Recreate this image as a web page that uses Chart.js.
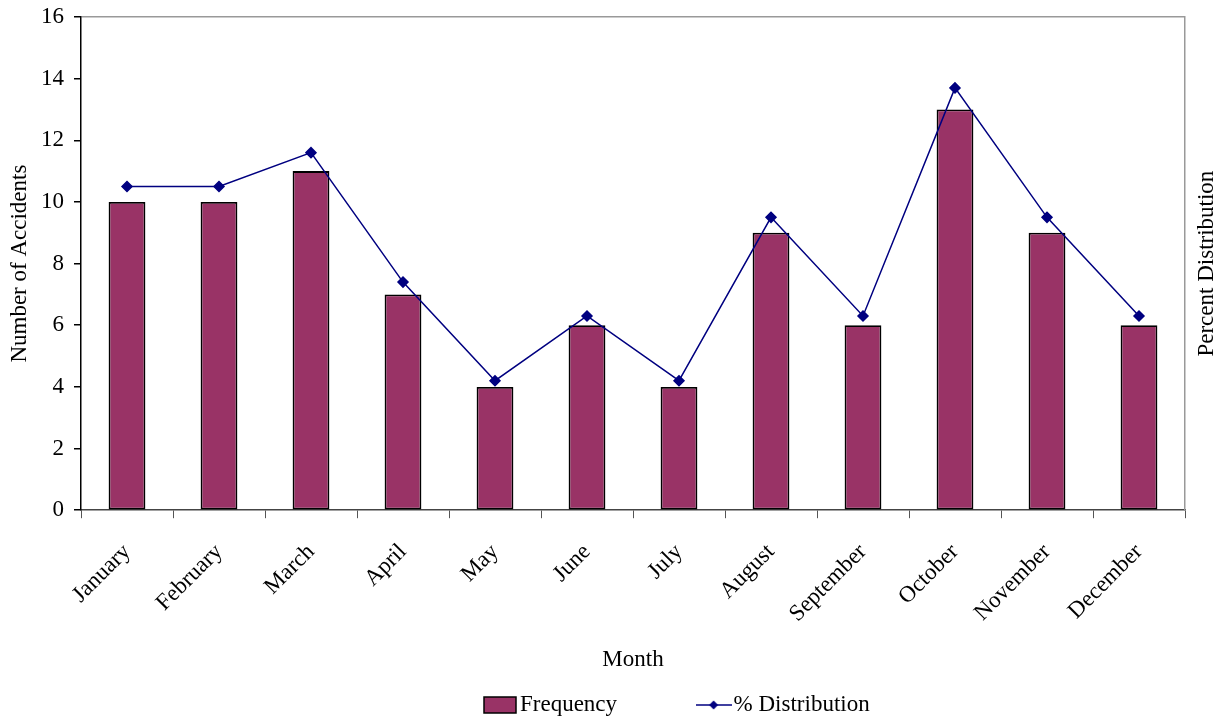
<!DOCTYPE html>
<html>
<head>
<meta charset="utf-8">
<script src="https://cdn.jsdelivr.net/npm/chart.js@4.4.1/dist/chart.umd.min.js"></script>
<style>
  html, body { margin: 0; padding: 0; background: #fff; }
  #wrap { width: 1225px; height: 721px; }
</style>
</head>
<body>
<div id="wrap"><canvas id="c" width="1225" height="721"></canvas></div>
<script>
const months = ["January","February","March","April","May","June","July","August","September","October","November","December"];
const frequency = [10, 10, 11, 7, 4, 6, 4, 9, 6, 13, 9, 6];
const percentDistribution = [10.5, 10.5, 11.6, 7.4, 4.2, 6.3, 4.2, 9.5, 6.3, 13.7, 9.5, 6.3];
const yTicks = [0, 2, 4, 6, 8, 10, 12, 14, 16];

const FONT = "'Liberation Serif', 'Times New Roman', serif";
const FS = 23;
const BAR_COLOR = '#993366';
const LINE_COLOR = '#000080';

function legendBarImg() {
  const c = document.createElement('canvas');
  c.width = 34; c.height = 18;
  const x = c.getContext('2d');
  x.fillStyle = BAR_COLOR;
  x.fillRect(1, 1, 32, 16);
  x.strokeStyle = '#000';
  x.lineWidth = 1.5;
  x.strokeRect(1, 1, 32, 16);
  return c;
}
function legendLineImg() {
  const c = document.createElement('canvas');
  c.width = 36; c.height = 12;
  const x = c.getContext('2d');
  x.strokeStyle = LINE_COLOR;
  x.lineWidth = 1.5;
  x.beginPath(); x.moveTo(0, 6); x.lineTo(36, 6); x.stroke();
  x.fillStyle = LINE_COLOR;
  x.beginPath(); x.moveTo(18, 1.5); x.lineTo(22.5, 6); x.lineTo(18, 10.5); x.lineTo(13.5, 6); x.closePath(); x.fill();
  return c;
}
const barImg = legendBarImg();
const lineImg = legendLineImg();

const LEGEND_GAP = 88;
const rightTitlePlugin = {
  id: 'rightTitle',
  afterLayout(chart) {
    const lg = chart.legend;
    if (lg) {
      lg.options.labels.padding = LEGEND_GAP;
      lg.left = 491.5 - LEGEND_GAP;
      lg.top = 705 - FS / 2 - LEGEND_GAP;
    }
  },
  afterDraw(chart) {
    const ctx = chart.ctx;
    ctx.save();
    ctx.font = FS + 'px ' + FONT;
    ctx.fillStyle = '#000';
    ctx.textAlign = 'center';
    ctx.textBaseline = 'middle';
    ctx.translate(1207, (chart.chartArea.top + chart.chartArea.bottom) / 2);
    ctx.rotate(-Math.PI / 2);
    ctx.fillText('Percent Distribution', 0, 0);
    ctx.restore();
  }
};

new Chart(document.getElementById('c'), {
  data: {
    labels: months,
    datasets: [
      {
        type: 'line',
        label: '% Distribution',
        data: percentDistribution,
        yAxisID: 'y1',
        borderColor: LINE_COLOR,
        backgroundColor: LINE_COLOR,
        borderWidth: 1.5,
        pointStyle: 'rectRot',
        pointRadius: 5,
        pointBackgroundColor: LINE_COLOR,
        pointBorderColor: LINE_COLOR,
        tension: 0,
        order: 0
      },
      {
        type: 'bar',
        label: 'Frequency',
        data: frequency,
        yAxisID: 'y',
        backgroundColor: BAR_COLOR,
        borderColor: '#000',
        borderWidth: 1.8,
        borderSkipped: false,
        barPercentage: 0.4,
        categoryPercentage: 1.0,
        order: 1
      }
    ]
  },
  options: {
    responsive: false,
    animation: false,
    layout: { padding: { left: 0, right: 0, top: 0, bottom: 0 } },
    plugins: {
      tooltip: { enabled: false },
      legend: {
        display: true,
        position: 'bottom',
        align: 'start',
        labels: {
          usePointStyle: true,
          pointStyleWidth: 17,
          padding: 10,
          color: '#000',
          font: { family: FONT, size: FS },
          generateLabels(chart) {
            return [
              { text: 'Frequency', pointStyle: barImg, datasetIndex: 1, fillStyle: BAR_COLOR, strokeStyle: '#000', lineWidth: 0, hidden: false },
              { text: '% Distribution', pointStyle: lineImg, datasetIndex: 0, fillStyle: LINE_COLOR, strokeStyle: LINE_COLOR, lineWidth: 0, hidden: false }
            ];
          }
        }
      }
    },
    scales: {
      x: {
        offset: true,
        grid: {
          offset: true,
          drawOnChartArea: false,
          drawTicks: true,
          tickLength: 8,
          color: '#555',
          tickColor: '#555'
        },
        border: { color: '#444', width: 1.5 },
        ticks: {
          color: '#000',
          font: { family: FONT, size: FS, lineHeight: 1.0 },
          minRotation: 45,
          maxRotation: 45,
          autoSkip: false,
          padding: 22
        },
        title: {
          display: true,
          text: 'Month',
          color: '#000',
          font: { family: FONT, size: FS, lineHeight: 1.0 },
          padding: { top: 0, bottom: 7 }
        }
      },
      y: {
        position: 'left',
        min: 0,
        max: 16,
        afterBuildTicks(scale) { scale.ticks = yTicks.map(v => ({ value: v })); },
        afterFit(scale) { scale.paddingTop = 17; },
        grid: {
          drawOnChartArea: true,
          color: (ctx) => (ctx.tick && ctx.tick.value === 16) ? '#999' : 'rgba(0,0,0,0)',
          tickColor: '#000',
          tickLength: 7,
          lineWidth: 1.5
        },
        border: { color: '#000', width: 1.5 },
        ticks: {
          color: '#000',
          font: { family: FONT, size: FS, lineHeight: 1.0 },
          padding: 10
        },
        title: {
          display: true,
          text: 'Number of Accidents',
          color: '#000',
          font: { family: FONT, size: FS, lineHeight: 1.0 },
          padding: { top: 8, bottom: 0 }
        }
      },
      y1: {
        position: 'right',
        min: 0,
        max: 16,
        grid: { drawOnChartArea: false, drawTicks: false },
        border: { color: '#999', width: 1.5 },
        ticks: { display: false },
        title: {
          display: true,
          text: 'Percent Distribution',
          color: 'rgba(0,0,0,0)',
          font: { family: FONT, size: FS },
          padding: { top: 6, bottom: 6.4 }
        }
      }
    }
  },
  plugins: [rightTitlePlugin]
});
</script>
</body>
</html>
